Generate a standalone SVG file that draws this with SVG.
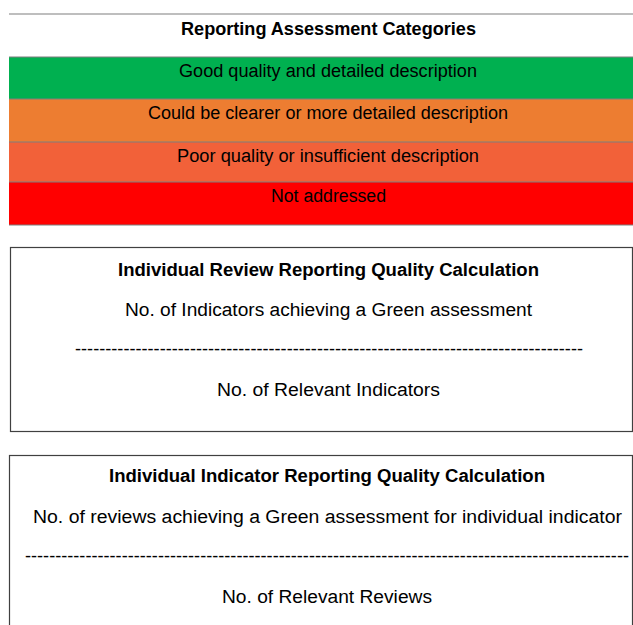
<svg xmlns="http://www.w3.org/2000/svg" width="633" height="625" viewBox="0 0 633 625">
<style>
text{font-family:"Liberation Sans",Arial,sans-serif;font-size:18px;fill:#000;text-anchor:middle}
.b{font-weight:bold}
.sep{stroke:#7f7f7f;stroke-width:1.2}
.box{fill:#fff;stroke:#404040;stroke-width:1.2}
</style>
<rect width="633" height="625" fill="#fff"/>
<g id="categories">
<line class="sep" x1="9" y1="14" x2="633" y2="14"/>
<text class="b" x="328.5" y="35" textLength="295" lengthAdjust="spacingAndGlyphs">Reporting Assessment Categories</text>
<g id="cat-green">
<rect x="9" y="57" width="624" height="42" fill="#00B050"/>
<text x="328" y="77" textLength="298" lengthAdjust="spacingAndGlyphs">Good quality and detailed description</text>
</g>
<g id="cat-orange">
<rect x="9" y="99" width="624" height="43" fill="#ED7D31"/>
<text x="328" y="119" textLength="360" lengthAdjust="spacingAndGlyphs">Could be clearer or more detailed description</text>
</g>
<g id="cat-poor">
<rect x="9" y="142" width="624" height="40" fill="#F26139"/>
<text x="328" y="162" textLength="302" lengthAdjust="spacingAndGlyphs">Poor quality or insufficient description</text>
</g>
<g id="cat-red">
<rect x="9" y="182" width="624" height="43" fill="#FF0000"/>
<text x="328.5" y="202" textLength="115" lengthAdjust="spacingAndGlyphs">Not addressed</text>
</g>
<line class="sep" x1="9" y1="57" x2="633" y2="57"/>
<line class="sep" x1="9" y1="99" x2="633" y2="99"/>
<line class="sep" x1="9" y1="142" x2="633" y2="142"/>
<line class="sep" x1="9" y1="182" x2="633" y2="182"/>
<line class="sep" x1="9" y1="225" x2="633" y2="225"/>
</g>
<g id="review-calc">
<rect class="box" x="10.5" y="247.5" width="622" height="184"/>
<text class="b" x="328.5" y="276" textLength="421" lengthAdjust="spacingAndGlyphs">Individual Review Reporting Quality Calculation</text>
<text x="328.5" y="316" textLength="407" lengthAdjust="spacingAndGlyphs">No. of Indicators achieving a Green assessment</text>
<text x="329" y="355" textLength="508" lengthAdjust="spacingAndGlyphs">------------------------------------------------------------------------------------</text>
<text x="328.5" y="396" textLength="223" lengthAdjust="spacingAndGlyphs">No. of Relevant Indicators</text>
</g>
<g id="indicator-calc">
<rect class="box" x="9.5" y="455.5" width="623" height="180"/>
<text class="b" x="327" y="482" textLength="436" lengthAdjust="spacingAndGlyphs">Individual Indicator Reporting Quality Calculation</text>
<text x="327.5" y="523" textLength="589" lengthAdjust="spacingAndGlyphs">No. of reviews achieving a Green assessment for individual indicator</text>
<text x="327" y="562" textLength="604" lengthAdjust="spacingAndGlyphs">----------------------------------------------------------------------------------------------------</text>
<text x="327" y="603" textLength="210" lengthAdjust="spacingAndGlyphs">No. of Relevant Reviews</text>
</g>
</svg>
